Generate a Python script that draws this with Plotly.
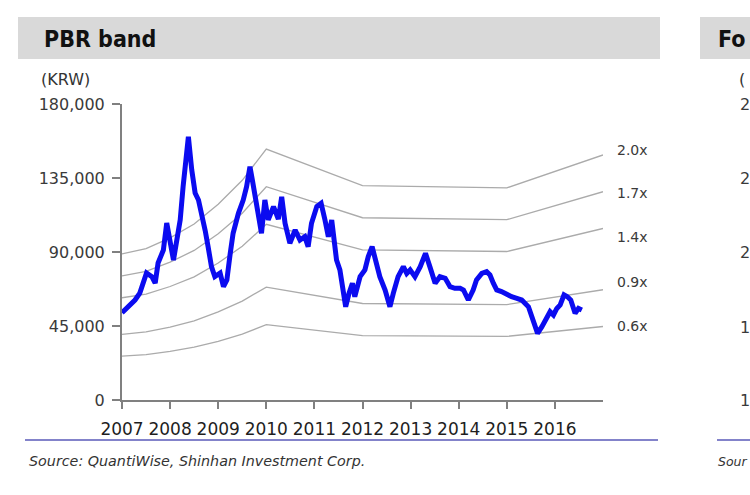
import plotly.graph_objects as go

# ---------------- data ----------------
price_x = [2007.00, 2007.13, 2007.27, 2007.37, 2007.51, 2007.62, 2007.69, 2007.75, 2007.86, 2007.93,
           2008.00, 2008.07, 2008.14, 2008.21, 2008.27, 2008.35, 2008.38, 2008.45, 2008.52, 2008.59,
           2008.62, 2008.69, 2008.73, 2008.79, 2008.86, 2008.93, 2009.04, 2009.11, 2009.18, 2009.25,
           2009.31, 2009.42, 2009.52, 2009.59, 2009.66, 2009.71, 2009.77, 2009.83, 2009.90, 2009.97,
           2010.04, 2010.15, 2010.25, 2010.32, 2010.39, 2010.49, 2010.60, 2010.70, 2010.80, 2010.87,
           2010.94, 2011.05, 2011.14, 2011.22, 2011.29, 2011.36, 2011.41, 2011.46, 2011.53, 2011.60,
           2011.65, 2011.72, 2011.79, 2011.84, 2011.95, 2012.05, 2012.12, 2012.20, 2012.27, 2012.36,
           2012.47, 2012.57, 2012.64, 2012.74, 2012.85, 2012.92, 2012.99, 2013.09, 2013.20, 2013.31,
           2013.40, 2013.51, 2013.61, 2013.72, 2013.82, 2013.92, 2014.03, 2014.10, 2014.20, 2014.30,
           2014.37, 2014.48, 2014.58, 2014.65, 2014.72, 2014.79, 2014.89, 2015.00, 2015.10, 2015.21,
           2015.31, 2015.45, 2015.52, 2015.59, 2015.64, 2015.73, 2015.83, 2015.90, 2015.97, 2016.04,
           2016.11, 2016.19, 2016.26, 2016.33, 2016.42, 2016.49, 2016.56]
price_krw = [53100, 56700, 60800, 65000, 77200, 75000, 71100, 83300, 91200, 107600,
             97300, 85100, 97300, 109500, 129700, 150200, 160100, 139900, 125900, 121600,
             118000, 108000, 103000, 93200, 81100, 75000, 77200, 68900, 73000, 89200,
             101400, 113500, 121600, 129700, 141900, 133800, 123600, 109500, 101400, 121600,
             109500, 117600, 110000, 123600, 107500, 95300, 103400, 97300, 99300, 93200,
             107500, 117600, 119600, 109500, 99300, 109500, 99300, 85100, 79100, 64900,
             56700, 64900, 71000, 62800, 75000, 79100, 87200, 93200, 85100, 75000,
             66900, 56700, 64900, 75000, 81100, 77000, 79100, 75000, 81100, 89200,
             81100, 71000, 75000, 74000, 68900, 67900, 67900, 66900, 60800, 66900,
             73000, 77000, 78000, 76000, 71000, 66900, 65900, 63900, 62800, 61800,
             60800, 56700, 50700, 44600, 40500, 44600, 49700, 53700, 51700, 55700,
             57800, 63900, 62800, 60800, 52700, 55700, 54700]

bps_x = [2007.0, 2007.5, 2008.0, 2008.5, 2009.0, 2009.5, 2010.0, 2012.0, 2015.0, 2017.0]
bps_krw = [44400, 46000, 49300, 53500, 59500, 66800, 76300, 65200, 64500, 74500]

multiples = [2.0, 1.7, 1.4, 0.9, 0.6]
multiple_labels = ["2.0x", "1.7x", "1.4x", "0.9x", "0.6x"]
label_shift_px = [5, -1, -9, 8, 0]

y_ticks = [0, 45000, 90000, 135000, 180000]
x_ticks = [2007, 2008, 2009, 2010, 2011, 2012, 2013, 2014, 2015, 2016]

W, H = 750, 495
def px(x): return x / W
def py(y): return 1 - y / H

fig = go.Figure()

for m in multiples:
    fig.add_trace(go.Scatter(x=bps_x, y=[b * m for b in bps_krw], mode="lines",
                             line=dict(color="#ababab", width=1.3), hoverinfo="skip",
                             showlegend=False))

fig.add_trace(go.Scatter(x=price_x, y=price_krw, mode="lines",
                         line=dict(color="#0b0bf0", width=5), showlegend=False))

tick_font = dict(family="DejaVu Sans, Verdana, sans-serif", size=16, color="#3a3a3a")

fig.update_layout(
    width=W, height=H, margin=dict(l=0, r=0, t=0, b=0, autoexpand=False),
    paper_bgcolor="white", plot_bgcolor="white",
    xaxis=dict(domain=[px(122), px(603)], range=[2007, 2017], tickvals=x_ticks,
               ticktext=[str(v) for v in x_ticks], showgrid=False, zeroline=False,
               showline=True, linecolor="#808080", linewidth=2, automargin=False,
               ticks="outside", ticklen=7, tickwidth=2, tickcolor="#808080",
               ticklabelstandoff=6,
               tickfont=dict(family="DejaVu Sans, Verdana, sans-serif", size=17,
                             color="#1e1e1e"),
               fixedrange=True),
    yaxis=dict(domain=[py(400), py(104)], range=[0, 180000], tickvals=y_ticks,
               tickformat=",", showgrid=False, zeroline=False,
               showline=True, linecolor="#808080", linewidth=2, automargin=False,
               ticks="outside", ticklen=8, tickwidth=2, tickcolor="#808080",
               ticklabelstandoff=4,
               tickfont=tick_font, fixedrange=True),
)

shapes = [
    dict(type="rect", xref="paper", yref="paper", x0=px(18), x1=px(660), y0=py(59), y1=py(17),
         fillcolor="#d9d9d9", line=dict(width=0), layer="below"),
    dict(type="rect", xref="paper", yref="paper", x0=px(700), x1=px(752), y0=py(59), y1=py(17),
         fillcolor="#d9d9d9", line=dict(width=0), layer="below"),
    dict(type="line", xref="paper", yref="paper", x0=px(25), x1=px(658), y0=py(440), y1=py(440),
         line=dict(color="#5a5ab8", width=1.5)),
    dict(type="line", xref="paper", yref="paper", x0=px(717), x1=px(752), y0=py(440), y1=py(440),
         line=dict(color="#5a5ab8", width=1.5)),
]
fig.update_layout(shapes=shapes)

title_font = dict(family="Liberation Sans Narrow, DejaVu Sans Condensed, Arial Narrow, sans-serif",
                  size=23, color="#111111")
small_font = dict(family="DejaVu Sans, sans-serif", size=16, color="#333333")
src_font = dict(family="DejaVu Sans, sans-serif", size=14.3, color="#333333")
src_font_edge = dict(family="DejaVu Sans, sans-serif", size=12.5, color="#333333")
ann = [
    dict(text="<b>PBR band</b>", x=px(42), y=py(39), xanchor="left", yanchor="middle",
         font=title_font),
    dict(text="<b>Fo</b>", x=px(716), y=py(39), xanchor="left", yanchor="middle",
         font=title_font),
    dict(text="(KRW)", x=px(39), y=py(79), xanchor="left", yanchor="middle", font=small_font),
    dict(text="(", x=px(737), y=py(79), xanchor="left", yanchor="middle", font=small_font),
    dict(text="<i>Source: QuantiWise, Shinhan Investment Corp.</i>", x=px(27), y=py(461),
         xanchor="left", yanchor="middle", font=src_font),
    dict(text="<i>Sour</i>", x=px(716), y=py(461), xanchor="left", yanchor="middle",
         font=src_font_edge),
]
for t, yy in zip(["2", "2", "2", "1", "1"], [104, 178, 253, 327, 400]):
    ann.append(dict(text=t, x=px(738), y=py(yy), xanchor="left", yanchor="middle", font=tick_font))

for m, lab, sh in zip(multiples, multiple_labels, label_shift_px):
    ann.append(dict(text=lab, xref="x", yref="y", x=bps_x[-1], y=bps_krw[-1] * m,
                    xshift=12, yshift=sh, xanchor="left", yanchor="middle", showarrow=False,
                    font=dict(family="DejaVu Sans, Verdana, sans-serif", size=14, color="#3a3a3a")))

for a in ann:
    a.setdefault("xref", "paper")
    a.setdefault("yref", "paper")
    a["showarrow"] = False
fig.update_layout(annotations=ann)

fig.write_html("out.html")
